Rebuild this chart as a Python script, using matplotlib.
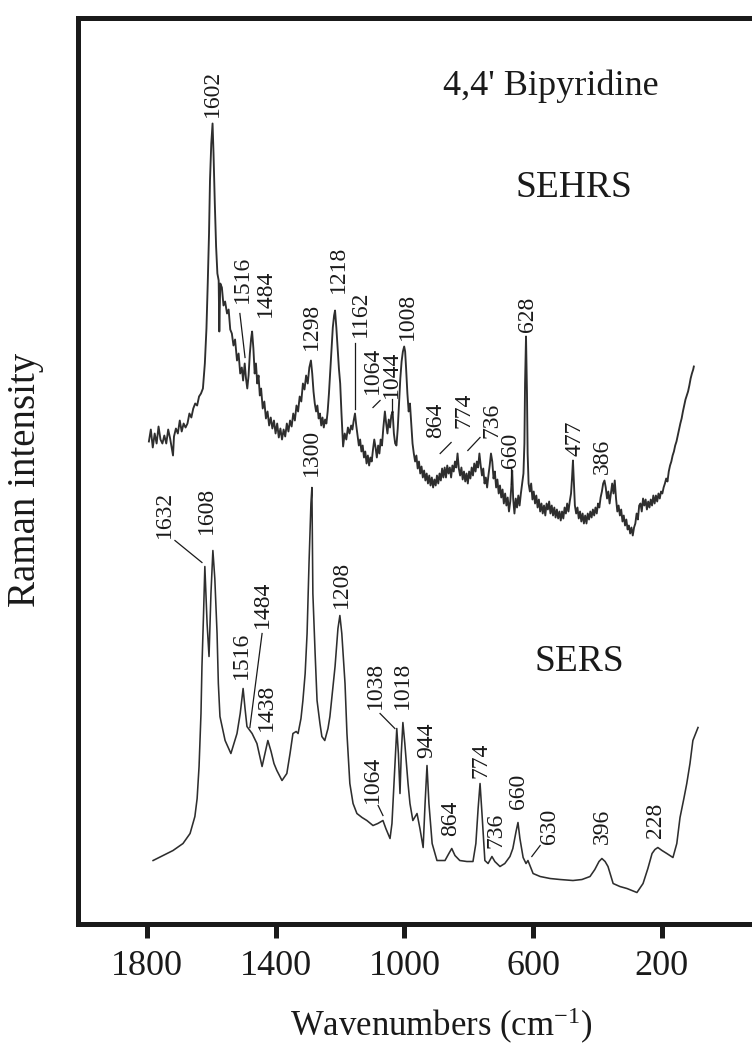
import matplotlib
matplotlib.use('Agg')
import matplotlib.pyplot as plt

plt.rcParams['font.family'] = ['Liberation Serif', 'DejaVu Serif']
plt.rcParams['mathtext.fontset'] = 'custom'
plt.rcParams['mathtext.rm'] = 'Liberation Serif'
plt.rcParams['mathtext.it'] = 'Liberation Serif:italic'

# SEHRS trace (wavenumber, intensity in arbitrary units)
sehrs_wn = [1795, 1789, 1783, 1777, 1771, 1765, 1759, 1753, 1747, 1741, 1735, 1729, 1720, 1717,
            1711, 1705, 1699, 1693, 1687, 1681, 1675, 1669, 1663, 1657, 1651, 1645, 1639, 1633,
            1627, 1621, 1616, 1612, 1608, 1605, 1601, 1597, 1594, 1590, 1586, 1582, 1578, 1576,
            1573, 1568, 1563, 1558, 1552, 1547, 1542, 1537, 1532, 1527, 1521, 1516, 1511, 1506,
            1502, 1497, 1493, 1489, 1485, 1481, 1477, 1474, 1470, 1466, 1462, 1458, 1454, 1450,
            1446, 1441, 1436, 1431, 1426, 1421, 1416, 1411, 1406, 1401, 1396, 1391, 1386, 1381,
            1376, 1371, 1366, 1361, 1356, 1351, 1346, 1341, 1336, 1331, 1326, 1321, 1316, 1311,
            1306, 1301, 1296, 1291, 1287, 1283, 1279, 1275, 1271, 1267, 1263, 1259, 1255, 1251,
            1247, 1243, 1239, 1235, 1231, 1227, 1223, 1219, 1216, 1212, 1208, 1204, 1200, 1196,
            1191, 1186, 1181, 1176, 1171, 1166, 1162, 1158, 1154, 1150, 1146, 1142, 1138, 1134,
            1130, 1126, 1122, 1118, 1114, 1110, 1106, 1102, 1098, 1094, 1090, 1086, 1082, 1078,
            1074, 1070, 1066, 1061, 1057, 1053, 1049, 1045, 1041, 1037, 1033, 1029, 1025, 1021,
            1017, 1013, 1009, 1005, 1001, 998, 995, 991, 987, 983, 979, 975, 971, 967,
            963, 959, 955, 951, 947, 943, 939, 935, 931, 927, 923, 919, 915, 911,
            907, 903, 899, 895, 891, 887, 883, 879, 875, 871, 867, 863, 859, 855,
            851, 847, 843, 839, 835, 831, 827, 823, 819, 815, 811, 807, 803, 799,
            795, 791, 787, 783, 779, 775, 771, 767, 763, 759, 755, 751, 747, 743,
            739, 735, 731, 727, 723, 719, 715, 711, 707, 703, 699, 695, 691, 687,
            683, 679, 675, 671, 667, 665, 662, 658, 654, 650, 646, 642, 638, 634,
            630, 627, 625, 622, 619, 617, 614, 610, 606, 602, 598, 594, 590, 586,
            582, 578, 574, 570, 566, 562, 558, 554, 550, 546, 542, 538, 534, 530,
            526, 522, 518, 514, 510, 506, 502, 498, 494, 490, 486, 482, 479, 476,
            473, 470, 466, 462, 458, 454, 450, 446, 442, 438, 434, 430, 426, 422,
            418, 414, 410, 406, 402, 398, 394, 390, 386, 382, 378, 374, 370, 366,
            362, 358, 354, 350, 346, 342, 338, 334, 330, 326, 322, 318, 314, 310,
            306, 302, 298, 294, 290, 286, 282, 278, 274, 270, 266, 262, 258, 254,
            250, 246, 242, 238, 234, 230, 226, 222, 218, 214, 210, 206, 202, 198,
            194, 190, 186, 182, 178, 174, 170, 166, 162, 158, 154, 150, 146, 142,
            138, 134, 130, 126, 122, 118, 114, 110, 106, 102, 100]
sehrs_int = [482, 494, 476, 490, 480, 497, 484, 480, 488, 480, 494, 485, 468, 487,
             495, 490, 503, 492, 500, 496, 500, 510, 506, 515, 520, 518, 527, 530,
             535, 560, 595, 640, 690, 743, 780, 800, 770, 720, 677, 650, 643, 592,
             640, 636, 618, 622, 610, 614, 594, 590, 578, 584, 563, 570, 550, 556,
             543, 560, 545, 535, 548, 570, 585, 592, 575, 550, 560, 540, 548, 528,
             535, 515, 522, 505, 512, 498, 506, 495, 503, 490, 500, 486, 495, 484,
             494, 487, 500, 492, 503, 497, 510, 503, 518, 512, 527, 522, 540, 534,
             548, 540, 556, 563, 550, 532, 520, 512, 518, 505, 510, 498, 506, 496,
             504, 500, 512, 530, 552, 575, 596, 608, 613, 596, 575, 555, 540, 510,
             477, 490, 484, 496, 490, 498, 494, 503, 510, 498, 488, 478, 484, 472,
             478, 466, 472, 460, 468, 458, 466, 462, 474, 484, 476, 466, 478, 470,
             484, 478, 495, 512, 500, 490, 504, 496, 508, 512, 490, 480, 478, 495,
             520, 545, 562, 572, 577, 572, 555, 530, 512, 520, 500, 480, 470, 462,
             468, 455, 462, 450, 457, 446, 453, 443, 450, 440, 448, 438, 446, 436,
             444, 438, 448, 440, 450, 443, 455, 446, 456, 446, 458, 450, 456, 446,
             458, 452, 462, 456, 470, 455, 448, 456, 444, 452, 442, 450, 440, 452,
             445, 456, 448, 460, 452, 462, 456, 470, 458, 448, 455, 440, 446, 436,
             448, 458, 470, 462, 445, 452, 436, 444, 430, 438, 426, 434, 420, 430,
             418, 426, 412, 422, 440, 453, 425, 410, 425, 416, 428, 418, 430, 440,
             450, 480, 540, 587, 530, 470, 440, 432, 440, 424, 432, 420, 428, 416,
             424, 412, 420, 410, 418, 408, 420, 414, 422, 410, 418, 408, 416, 406,
             414, 405, 412, 403, 412, 405, 416, 410, 420, 412, 422, 430, 445, 463,
             440, 418, 410, 416, 405, 412, 402, 410, 400, 408, 400, 410, 404, 412,
             406, 414, 408, 416, 410, 420, 416, 426, 432, 440, 443, 436, 425, 432,
             420, 430, 440, 430, 443, 425, 412, 418, 408, 414, 402, 408, 398, 404,
             394, 398, 390, 396, 388, 396, 400, 410, 404, 418, 420, 412, 425, 418,
             424, 414, 422, 416, 424, 418, 428, 420, 428, 422, 430, 425, 432, 430,
             436, 440, 445, 442, 452, 458, 462, 468, 472, 478, 482, 488, 494, 500,
             505, 512, 518, 524, 528, 532, 538, 545, 550, 554, 557]

# SERS trace
sers_wn = [1782, 1751, 1720, 1689, 1667, 1652, 1645, 1639, 1633, 1630, 1625, 1621, 1614, 1608,
           1602, 1596, 1590, 1583, 1579, 1574, 1558, 1540, 1521, 1511, 1502, 1496, 1490, 1481,
           1474, 1459, 1443, 1434, 1425, 1415, 1406, 1397, 1381, 1366, 1356, 1347, 1337, 1331,
           1322, 1316, 1309, 1303, 1297, 1291, 1288, 1285, 1278, 1272, 1263, 1257, 1248, 1238,
           1232, 1223, 1216, 1207, 1201, 1195, 1185, 1179, 1170, 1160, 1148, 1132, 1117, 1098,
           1083, 1067, 1058, 1045, 1039, 1030, 1024, 1019, 1014, 1010, 1005, 999, 989, 983,
           974, 961, 952, 942, 936, 930, 924, 914, 899, 874, 862, 853, 843, 828,
           806, 787, 778, 771, 765, 759, 750, 740, 728, 719, 703, 688, 672, 663,
           653, 647, 641, 631, 622, 616, 600, 578, 547, 516, 476, 448, 423, 408,
           395, 386, 376, 367, 351, 330, 308, 277, 258, 243, 230, 221, 212, 199,
           184, 165, 153, 143, 131, 122, 112, 103, 87]
sers_int = [63, 68, 73, 80, 90, 107, 125, 157, 210, 257, 310, 357, 300, 267,
            330, 373, 345, 290, 240, 207, 183, 170, 190, 210, 235, 215, 197, 193,
            190, 180, 157, 170, 183, 172, 160, 153, 143, 150, 170, 190, 192, 190,
            205, 223, 250, 290, 360, 420, 436, 330, 270, 223, 200, 187, 183, 195,
            207, 235, 257, 295, 308, 290, 240, 190, 140, 120, 110, 106, 103, 98,
            100, 103, 95, 85, 100, 157, 195, 170, 130, 170, 201, 180, 140, 120,
            103, 110, 95, 76, 120, 158, 120, 80, 63, 63, 70, 75, 68, 63,
            62, 62, 80, 115, 140, 110, 63, 60, 67, 62, 57, 60, 67, 75,
            92, 101, 85, 66, 60, 63, 50, 47, 45, 44, 43, 44, 47, 54,
            62, 65, 62, 57, 40, 37, 35, 31, 40, 55, 70, 74, 76, 73,
            70, 66, 80, 106, 125, 140, 160, 183, 196]

# peak labels: text, x (wavenumber), bottom of the text (intensity)
sehrs_labels = ['1602', '1516', '1484', '1298', '1218', '1162', '1064', '1044',
                '1008', '864', '774', '736', '660', '628', '477', '386']
sehrs_label_x = [1596, 1505, 1434, 1288, 1207, 1136, 1101, 1042,
                 992, 902, 815, 728, 669, 616, 470, 383]
sehrs_label_y = [806, 620, 606, 573, 630, 586, 530, 526,
                 583, 486, 496, 486, 456, 591, 468, 450]
sehrs_leaders = [((1512, 610), (1496, 566)), ((1154, 580), (1154, 515)),
                 ((1098, 516), (1076, 523)), ((1039, 525), (1039, 510)),
                 ((889, 470), (855, 481)), ((803, 473), (765, 486)),
                 ((669, 456), (669, 440))]

sers_labels = ['1632', '1608', '1300', '1208', '1516', '1484', '1438', '1064', '1038',
               '1018', '944', '864', '774', '736', '660', '630', '396', '228']
sers_label_x = [1748, 1617, 1288, 1195, 1508, 1443, 1428, 1101, 1089,
                1008, 930, 855, 762, 715, 644, 550, 386, 218]
sers_label_y = [386, 390, 448, 316, 245, 296, 193, 121, 215,
                215, 166, 88, 146, 76, 115, 80, 80, 86]
sers_leaders = [((1714, 383), (1630, 361)), ((1443, 290), (1481, 196)),
                ((1076, 210), (1030, 195)), ((1082, 118), (1067, 108)),
                ((578, 78), (604, 67))]

xticks = [1800, 1400, 1000, 600, 200]

fig = plt.figure(figsize=(7.52, 10.46), dpi=100)
ax = fig.add_axes([0.1037, 0.1171, 0.8963, 0.8657])

line_color = '#2e2e2e'
ax.plot(sehrs_wn, sehrs_int, color=line_color, lw=1.35)
ax.plot(sers_wn, sers_int, color=line_color, lw=1.15)

for t, x, y in zip(sehrs_labels, sehrs_label_x, sehrs_label_y):
    ax.text(x, y, t, rotation=90, ha='center', va='bottom', fontsize=17, color='#1a1a1a')
for t, x, y in zip(sers_labels, sers_label_x, sers_label_y):
    ax.text(x, y, t, rotation=90, ha='center', va='bottom', fontsize=17, color='#1a1a1a')
for (p1, p2) in sehrs_leaders + sers_leaders:
    ax.plot([p1[0], p2[0]], [p1[1], p2[1]], color='#1a1a1a', lw=0.9)

ax.text(545, 828, "4,4' Bipyridine", ha='center', va='baseline', fontsize=26, color='#1a1a1a')
ax.text(473, 726, 'SEHRS', ha='center', va='baseline', fontsize=27, color='#1a1a1a')
ax.text(455, 253, 'SERS', ha='center', va='baseline', fontsize=27, color='#1a1a1a')

ax.set_xlim(2015.6, -80.9)
ax.set_ylim(0, 905.5)
ax.set_xticks(xticks)
ax.set_xticklabels([str(v) for v in xticks])
ax.set_yticks([])
ax.tick_params(axis='x', direction='out', length=10, width=3.6, pad=9,
               labelsize=26, colors='#1a1a1a')
for side in ['left', 'top', 'bottom']:
    ax.spines[side].set_linewidth(3.6)
    ax.spines[side].set_color('#1a1a1a')
ax.spines['right'].set_visible(False)

fig.text(441 / 752, 1 - 1036 / 1046, 'Wavenumbers (cm$^{-1}$)', ha='center', va='baseline',
         fontsize=25, color='#1a1a1a')
fig.text(26 / 752, 1 - 480 / 1046, 'Raman intensity', rotation=90, ha='center', va='center',
         fontsize=28, color='#1a1a1a')

fig.savefig('out.png', dpi=100)
